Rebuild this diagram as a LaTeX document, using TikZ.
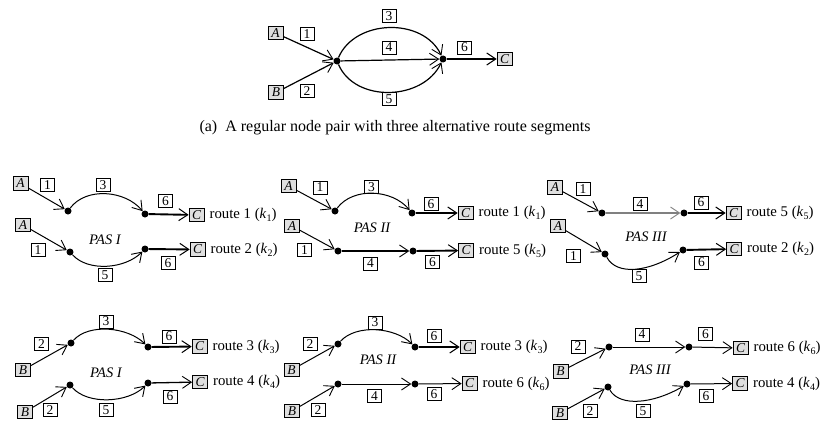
\documentclass[tikz,border=0pt]{standalone}
\usepackage{fontspec}
\setmainfont{Liberation Serif}
\usetikzlibrary{arrows.meta}
\newcommand{\rk}[1]{(\textit{k}\raisebox{-0.45ex}{\fontsize{10}{10}\selectfont #1})}
\tikzset{
  lbl/.style={draw, line width=0.75pt, minimum width=14pt, minimum height=13pt, inner sep=0.5pt, font=\fontsize{13.5}{14}\selectfont},
  ep/.style={draw, line width=0.75pt, fill=gray!25, minimum width=15pt, minimum height=13.5pt, inner sep=0.5pt, font=\fontsize{13.5}{14}\selectfont\itshape},
  dot/.style={circle, fill, inner sep=0pt, minimum size=7pt},
  seg/.style={line width=1pt, -{Straight Barb[length=9pt,width=12pt,line width=0.9pt]}},
  segthick/.style={line width=1.9pt, -{Straight Barb[length=9pt,width=12pt,line width=1pt]}},
  rt/.style={anchor=west, inner sep=0pt, font=\fontsize{14.8}{16}\selectfont},
  pas/.style={font=\fontsize{14.5}{16}\selectfont\itshape},
  captext/.style={font=\fontsize{16}{18}\selectfont}
}
\begin{document}
\begin{tikzpicture}[x=1pt,y=-1pt]
\useasboundingbox (0,0) rectangle (821,420);
% ---------- (a) ----------
\node[ep] (tA) at (275.5,33) {A};
\node[ep] (tB) at (276,92.5) {B};
\node[ep] (tC) at (504.5,59) {C};
\node[dot] (td1) at (337,61) {};
\node[dot] (td2) at (443,59) {};
\node[lbl] (t1) at (307,34) {1};
\node[lbl] (t2) at (307,91) {2};
\node[lbl] (t3) at (389,16) {3};
\node[lbl] (t4) at (389,47.5) {4};
\node[lbl] (t5) at (389,99) {5};
\node[lbl] (t6) at (464.5,47.5) {6};
\draw[seg,line width=1.2pt] (tA) -- (td1);
\draw[seg,line width=1.2pt] (tB) -- (td1);
\draw[seg,line width=1.2pt] (td1) .. controls +(18,-42) and +(-20,-42) .. (td2);
\draw[seg,line width=1.2pt] (td1) -- (td2);
\draw[seg,line width=1.2pt] (td1) .. controls +(18,42) and +(-20,42) .. (td2);
\draw[segthick,line width=2.2pt] (td2) -- (tC);
\node[captext] (capa) at (395,128) {(a)\ \ A regular node pair with three alternative route segments};

% ---------- Row 1, PAS I ----------
\node[ep] (aA1) at (20.5,183.5) {A};
\node[lbl] (a11) at (47.5,185) {1};
\node[dot] (ad11) at (68,211) {};
\node[lbl] (a13) at (103,185) {3};
\node[dot] (ad12) at (145,214) {};
\node[lbl] (a16) at (165.5,201) {6};
\node[ep] (aC1) at (196.5,215) {C};
\node[rt] (ar1) at ([xshift=5pt]aC1.east) {route 1 \rk{1}};
\draw[seg] (aA1) -- (ad11);
\draw[seg] (ad11) .. controls +(18,-24) and +(-20,-24) .. (ad12);
\draw[segthick] (ad12) -- (aC1);
\node[ep] (aA2) at (23,225) {A};
\node[lbl] (a21) at (38,250) {1};
\node[dot] (ad21) at (70,252) {};
\node[lbl] (a25) at (105,275) {5};
\node[dot] (ad22) at (145,249) {};
\node[lbl] (a26) at (168,263) {6};
\node[ep] (aC2) at (197.5,249.5) {C};
\node[rt] (ar2) at ([xshift=5pt]aC2.east) {route 2 \rk{2}};
\draw[seg] (aA2) -- (ad21);
\draw[seg] (ad21) .. controls +(18,20) and +(-20,20) .. (ad22);
\draw[segthick] (ad22) -- (aC2);
\node[pas] (ap) at (105,240) {PAS I};

% ---------- Row 1, PAS II ----------
\node[ep] (bA1) at (288.5,186) {A};
\node[lbl] (b11) at (320,187.5) {1};
\node[dot] (bd11) at (335,211) {};
\node[lbl] (b13) at (371.5,187) {3};
\node[dot] (bd12) at (412,213) {};
\node[lbl] (b16) at (431,204) {6};
\node[ep] (bC1) at (465.5,213) {C};
\node[rt] (br1) at ([xshift=5pt]bC1.east) {route 1 \rk{1}};
\draw[seg] (bA1) -- (bd11);
\draw[seg] (bd11) .. controls +(18,-24) and +(-20,-24) .. (bd12);
\draw[segthick] (bd12) -- (bC1);
\node[ep] (bA2) at (292,226) {A};
\node[lbl] (b21) at (304.5,250) {1};
\node[dot] (bd21) at (338,251) {};
\node[lbl] (b24) at (370.5,263.5) {4};
\node[dot] (bd22) at (413,251) {};
\node[lbl] (b26) at (432.5,262) {6};
\node[ep] (bC2) at (466,250.5) {C};
\node[rt] (br2) at ([xshift=5pt]bC2.east) {route 5 \rk{5}};
\draw[seg] (bA2) -- (bd21);
\draw[seg,line width=1.6pt] (bd21) -- (bd22);
\draw[segthick] (bd22) -- (bC2);
\node[pas] (bp) at (372,228) {PAS II};

% ---------- Row 1, PAS III ----------
\node[ep] (cA1) at (555,187.5) {A};
\node[lbl] (c11) at (583,189) {1};
\node[dot] (cd11) at (602,213) {};
\node[lbl] (c14) at (640,204) {4};
\node[dot] (cd12) at (684,213) {};
\node[lbl] (c16) at (701,202.5) {6};
\node[ep] (cC1) at (733.5,213) {C};
\node[rt] (cr1) at ([xshift=5pt]cC1.east) {route 5 \rk{5}};
\draw[seg] (cA1) -- (cd11);
\draw[seg,gray,line width=1.4pt] (cd11) -- (cd12);
\draw[segthick] (cd12) -- (cC1);
\node[ep] (cA2) at (558,226) {A};
\node[lbl] (c21) at (573.5,256) {1};
\node[dot] (cd21) at (605,254) {};
\node[lbl] (c25) at (639,276) {5};
\node[dot] (cd22) at (683,250) {};
\node[lbl] (c26) at (701.5,262.5) {6};
\node[ep] (cC2) at (734,249) {C};
\node[rt] (cr2) at ([xshift=5pt]cC2.east) {route 2 \rk{2}};
\draw[seg] (cA2) -- (cd21);
\draw[seg] (cd21) .. controls +(12,22) and +(-34,22) .. (cd22);
\draw[segthick] (cd22) -- (cC2);
\node[pas] (cp) at (646,237) {PAS III};

% ---------- Row 2, PAS I ----------
\node[ep] (dB1) at (23,370) {B};
\node[lbl] (d12) at (41.5,344) {2};
\node[dot] (dd11) at (71,343) {};
\node[lbl] (d13) at (106,321.5) {3};
\node[dot] (dd12) at (148,347) {};
\node[lbl] (d16) at (169,336.5) {6};
\node[ep] (dC1) at (199.5,346.5) {C};
\node[rt] (dr1) at ([xshift=5pt]dC1.east) {route 3 \rk{3}};
\draw[seg] (dB1) -- (dd11);
\draw[seg] (dd11) .. controls +(18,-20) and +(-20,-20) .. (dd12);
\draw[segthick] (dd12) -- (dC1);
\node[ep] (dB2) at (25,412) {B};
\node[lbl] (d22) at (50,410) {2};
\node[dot] (dd21) at (70,385) {};
\node[lbl] (d25) at (106,410) {5};
\node[dot] (dd22) at (148,383) {};
\node[lbl] (d26) at (170,396.5) {6};
\node[ep] (dC2) at (200,382) {C};
\node[rt] (dr2) at ([xshift=5pt]dC2.east) {route 4 \rk{4}};
\draw[seg] (dB2) -- (dd21);
\draw[seg] (dd21) .. controls +(18,20) and +(-20,20) .. (dd22);
\draw[seg,line width=1.3pt] (dd22) -- (dC2);
\node[pas] (dp) at (106,373) {PAS I};

% ---------- Row 2, PAS II ----------
\node[ep] (eB1) at (291.5,370) {B};
\node[lbl] (e12) at (310,344) {2};
\node[dot] (ed11) at (338,344) {};
\node[lbl] (e13) at (375,322.5) {3};
\node[dot] (ed12) at (415,347) {};
\node[lbl] (e16) at (434,336) {6};
\node[ep] (eC1) at (467.5,347) {C};
\node[rt] (er1) at ([xshift=5pt]eC1.east) {route 3 \rk{3}};
\draw[seg] (eB1) -- (ed11);
\draw[seg] (ed11) .. controls +(18,-20) and +(-20,-20) .. (ed12);
\draw[segthick] (ed12) -- (eC1);
\node[ep] (eB2) at (292,411) {B};
\node[lbl] (e22) at (318,410) {2};
\node[dot] (ed21) at (338,384) {};
\node[lbl] (e24) at (374.5,396) {4};
\node[dot] (ed22) at (415,384) {};
\node[lbl] (e26) at (434,394) {6};
\node[ep] (eC2) at (469.5,383.5) {C};
\node[rt] (er2) at ([xshift=5pt]eC2.east) {route 6 \rk{6}};
\draw[seg] (eB2) -- (ed21);
\draw[seg] (ed21) -- (ed22);
\draw[seg] (ed22) -- (eC2);
\node[pas] (ep2) at (378,360) {PAS II};

% ---------- Row 2, PAS III ----------
\node[ep] (fB1) at (560.5,371.5) {B};
\node[lbl] (f12) at (578,346.5) {2};
\node[dot] (fd11) at (609,347) {};
\node[lbl] (f14) at (642,334.5) {4};
\node[dot] (fd12) at (689,347) {};
\node[lbl] (f16) at (705.5,334) {6};
\node[ep] (fC1) at (740.5,348) {C};
\node[rt] (fr1) at ([xshift=5pt]fC1.east) {route 6 \rk{6}};
\draw[seg] (fB1) -- (fd11);
\draw[seg] (fd11) -- (fd12);
\draw[seg] (fd12) -- (fC1);
\node[ep] (fB2) at (560,413) {B};
\node[lbl] (f22) at (590,411) {2};
\node[dot] (fd21) at (608,387) {};
\node[lbl] (f25) at (643,411) {5};
\node[dot] (fd22) at (687,384) {};
\node[lbl] (f26) at (706,396) {6};
\node[ep] (fC2) at (740,383.5) {C};
\node[rt] (fr2) at ([xshift=5pt]fC2.east) {route 4 \rk{4}};
\draw[seg] (fB2) -- (fd21);
\draw[seg] (fd21) .. controls +(12,20) and +(-34,20) .. (fd22);
\draw[seg] (fd22) -- (fC2);
\node[pas] (fp) at (650,370) {PAS III};
\end{tikzpicture}
\end{document}
